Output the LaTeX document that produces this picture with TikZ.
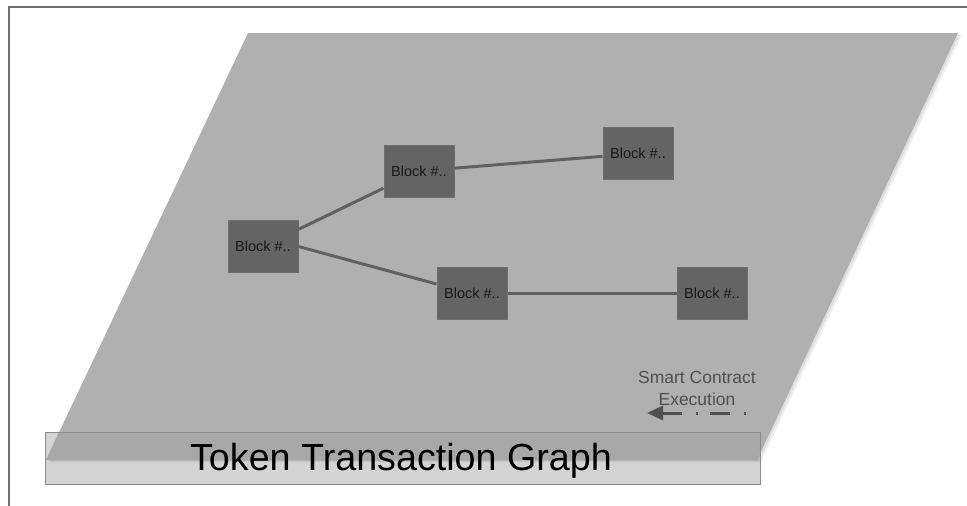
\documentclass[tikz,border=0pt]{standalone}
\usepackage{fontspec}
\setmainfont{Liberation Sans}
\usetikzlibrary{arrows.meta}
\definecolor{plane}{HTML}{B0B0B0}
\definecolor{barfill}{HTML}{D4D4D4}
\definecolor{overlap}{HTML}{A8A8A8}
\definecolor{barline}{HTML}{8C8C8C}
\definecolor{blockfill}{HTML}{646464}
\definecolor{blockline}{HTML}{6E6E6E}
\definecolor{edgecol}{HTML}{606060}
\definecolor{framecol}{HTML}{707070}
\definecolor{notecol}{HTML}{505050}
\tikzset{
  blockbox/.style={rectangle, fill=blockfill, draw=blockline, line width=1pt,
    minimum width=70pt, minimum height=52pt, inner sep=0pt,
    font=\fontsize{14.5}{16}\selectfont, text=black!90},
  edgeline/.style={draw=edgecol, line width=3pt},
  notetext/.style={font=\fontsize{17.5}{20}\selectfont, text=notecol, anchor=base, inner sep=0pt},
}
\begin{document}
\begin{tikzpicture}[x=1pt,y=-1pt]
\useasboundingbox (0,0) rectangle (967,506);
% frame
\draw[framecol, line width=1.5pt] (967,7) -- (9,7) -- (9,506);
% bar
\fill[barfill] (45,432) rectangle (760,484);
% plane shadow
\fill[black, opacity=0.06] (251,35) -- (962,35) -- (761,462) -- (50,462) -- cycle;
\fill[black, opacity=0.08] (249.5,34) -- (960,34) -- (759,461) -- (48.5,461) -- cycle;
% plane
\fill[plane] (248,33) -- (958,33) -- (757,460) -- (46,460) -- cycle;
% overlap of plane and bar
\begin{scope}
  \clip (248,33) -- (958,33) -- (757,460) -- (46,460) -- cycle;
  \fill[overlap] (45,432) rectangle (760,484);
\end{scope}
\draw[barline, line width=1pt] (45,432) rectangle (760,484);
% title
\node[anchor=base, inner sep=0pt, font=\fontsize{37.7}{40}\selectfont] (title) at (401,470) {Token Transaction Graph};
% blocks
\node[blockbox] (b1) at (263,246.5) {Block \#..};
\node[blockbox] (b2) at (419,171) {Block \#..};
\node[blockbox] (b3) at (638,153.5) {Block \#..};
\node[blockbox] (b4) at (472,293) {Block \#..};
\node[blockbox] (b5) at (712,293) {Block \#..};
\draw[edgeline] (b1) -- (b2);
\draw[edgeline] (b2) -- (b3);
\draw[edgeline] (b1.east) -- ([yshift=9pt]b4.west);
\draw[edgeline] (b4) -- (b5);
% smart contract execution
\node[notetext] (sc1) at (697,383) {Smart Contract};
\node[notetext] (sc2) at (697,405) {Execution};
\coordinate (arrS) at (746,413);
\coordinate (arrE) at (647,413);
\draw[notecol, line width=3pt, dash pattern=on 2pt off 14pt on 20pt off 12pt,
  -{Triangle[length=16pt,width=14pt]}] (arrS) -- (arrE);
\end{tikzpicture}
\end{document}
